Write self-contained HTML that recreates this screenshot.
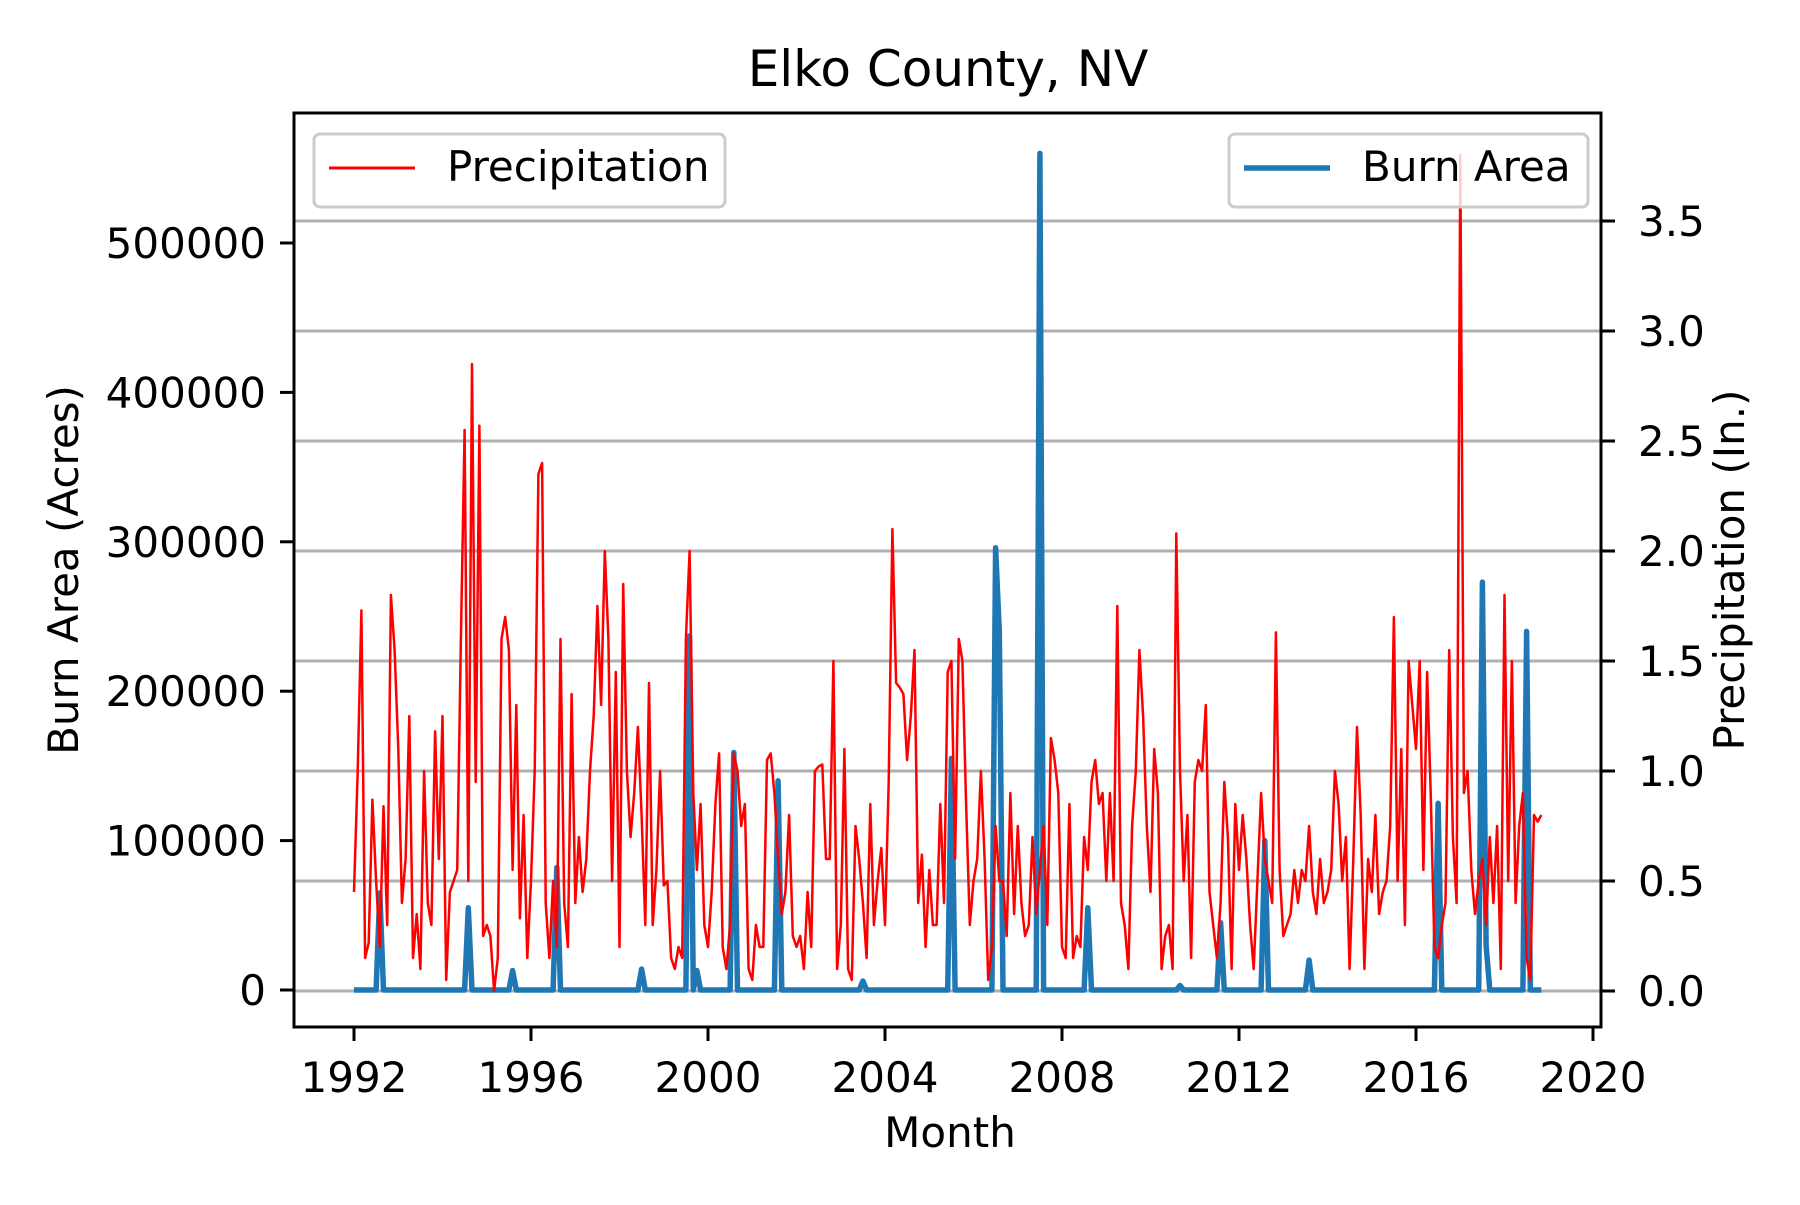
<!DOCTYPE html>
<html><head><meta charset="utf-8"><style>
body{margin:0;background:#fff}
svg{font-family:"DejaVu Sans","Liberation Sans",sans-serif}
</style></head><body>
<svg width="1800" height="1200" viewBox="0 0 1800 1200" id="c">
<rect width="1800" height="1200" fill="#fff"/>
<text x="948" y="86" font-size="50" text-anchor="middle">Elko County, NV</text>
<g id="grid"></g><g id="series"></g>
<rect x="294" y="113" width="1307" height="914" fill="none" stroke="#000" stroke-width="3"/>
<g id="axes"></g>
<text x="950" y="1147" font-size="42" text-anchor="middle">Month</text>
<text transform="translate(78,570) rotate(-90)" font-size="42" text-anchor="middle">Burn Area (Acres)</text>
<text transform="translate(1744,570) rotate(-90)" font-size="42" text-anchor="middle">Precipitation (In.)</text>
<g>
<rect x="314" y="134" width="411" height="73" rx="6" fill="#fff" fill-opacity="0.8" stroke="#ccc" stroke-width="3"/>
<line x1="329" y1="168" x2="415" y2="168" stroke="red" stroke-width="3"/>
<text x="447" y="181" font-size="42">Precipitation</text></g>
<g>
<rect x="1229" y="134" width="359" height="73" rx="6" fill="#fff" fill-opacity="0.8" stroke="#ccc" stroke-width="3"/>
<line x1="1244" y1="168" x2="1330" y2="168" stroke="#1f77b4" stroke-width="5.5"/>
<text x="1362" y="181" font-size="42">Burn Area</text></g>
</svg>
<script>
const xTicks=[1992,1996,2000,2004,2008,2012,2016,2020];
const leftTicks=[0,100000,200000,300000,400000,500000];
const rightTicks=[0.0,0.5,1.0,1.5,2.0,2.5,3.0,3.5];
const rightTickLabels=["0.0","0.5","1.0","1.5","2.0","2.5","3.0","3.5"];
const precip=[
.45,1.0,1.73,.15,.22,.87,.5,.2,.84,.3,1.8,1.55,
1.1,.4,.6,1.25,.15,.35,.1,1.0,.4,.3,1.18,.6,
1.25,.05,.45,.5,.55,1.6,2.55,.5,2.85,.95,2.57,.25,
.3,.25,.0,.15,1.6,1.7,1.55,.55,1.3,.33,.8,.15,
.5,1.0,2.35,2.4,.4,.15,.5,.2,1.6,.4,.2,1.35,
.4,.7,.45,.6,1.0,1.25,1.75,1.3,2.0,1.6,.5,1.45,
.2,1.85,1.0,.7,.9,1.2,.8,.3,1.4,.3,.55,1.0,
.48,.5,.15,.1,.2,.15,1.6,2.0,.9,.55,.85,.3,
.2,.45,.85,1.08,.2,.1,.3,1.08,1.0,.75,.85,.1,
.05,.3,.2,.2,1.05,1.08,.9,.6,.35,.45,.8,.25,
.2,.25,.1,.45,.2,1.0,1.02,1.03,.6,.6,1.5,.1,
.3,1.1,.1,.05,.75,.6,.4,.15,.85,.3,.5,.65,
.3,.95,2.1,1.4,1.38,1.35,1.05,1.25,1.55,.4,.62,.2,
.55,.3,.3,.85,.4,1.45,1.5,.6,1.6,1.5,.85,.3,
.5,.6,1.0,.6,.05,.2,.75,.5,.5,.25,.9,.35,
.75,.4,.25,.3,.7,.35,.55,.75,.3,1.15,1.05,.9,
.2,.15,.85,.15,.25,.2,.7,.55,.95,1.05,.85,.9,
.5,.9,.5,1.75,.4,.3,.1,.75,1.0,1.55,1.25,.75,
.45,1.1,.9,.1,.25,.3,.1,2.08,1.0,.5,.8,.15,
.95,1.05,1.0,1.3,.45,.3,.15,.4,.95,.7,.1,.85,
.55,.8,.6,.3,.1,.5,.9,.6,.5,.4,1.63,.55,
.25,.3,.35,.55,.4,.55,.5,.75,.45,.35,.6,.4,
.45,.55,1.0,.85,.5,.7,.1,.6,1.2,.8,.1,.6,
.45,.8,.35,.45,.5,.75,1.7,.5,1.1,.3,1.5,1.3,
1.1,1.5,.55,1.45,.9,.2,.15,.3,.4,1.55,.7,.4,
3.8,.9,1.0,.55,.35,.5,.6,.3,.7,.4,.75,.1,
1.8,.5,1.5,.4,.75,.9,.15,.05,.8,.77,.8];
const burnMonths=[1992.58,1994.58,1995.58,1996.58,1998.5,1999.58,1999.75,2000.58,2001.58,2003.5,2005.5,2006.5,2006.6,2007.5,2008.6,2010.67,2011.6,2012.6,2013.6,2016.5,2017.5,2017.6,2018.5];
const burnValues=[65000,55000,13000,82000,14000,237000,13000,159000,140000,6000,155000,296000,240000,560000,55000,3000,45000,100000,20000,125000,273000,30000,240000];
const X=y=>354+(y-1992)*44.25;
const YL=v=>990-v*747/500000;
const YR=v=>991-v*220;
const NS="http://www.w3.org/2000/svg";
function mk(tag,attrs,parent){const e=document.createElementNS(NS,tag);for(const k in attrs)e.setAttribute(k,attrs[k]);document.getElementById(parent).appendChild(e);return e;}
rightTicks.forEach((t,i)=>{
 const g=mk('line',{x1:294,x2:1601,y1:YR(t),y2:YR(t),stroke:'#b0b0b0','stroke-width':3},'grid');
 
 
 const tk=mk('line',{x1:1601,x2:1615,y1:YR(t),y2:YR(t),stroke:'#000','stroke-width':3},'axes');
 
 
 const tx=mk('text',{x:1638,y:YR(t)+15,'font-size':42},'axes');tx.textContent=rightTickLabels[i];
 
 
});
leftTicks.forEach(t=>{
 const tk=mk('line',{x1:280,x2:294,y1:YL(t),y2:YL(t),stroke:'#000','stroke-width':3},'axes');
 
 
 const tx=mk('text',{x:266,y:YL(t)+15,'font-size':42,'text-anchor':'end'},'axes');tx.textContent=String(t);
 
 
});
xTicks.forEach(t=>{
 const tk=mk('line',{x1:X(t),x2:X(t),y1:1027,y2:1041,stroke:'#000','stroke-width':3},'axes');
 
 
 const tx=mk('text',{x:X(t),y:1092,'font-size':42,'text-anchor':'middle'},'axes');tx.textContent=String(t);
 
 
});
const n=precip.length;const burn=new Array(n).fill(0);
burnMonths.forEach((m,i)=>{const idx=Math.round((m-1992)*12);if(idx>=0&&idx<n)burn[idx]=Math.max(burn[idx],burnValues[i]);});
let pb=burn.map((v,i)=>X(1992+i/12).toFixed(1)+','+YL(v).toFixed(1)).join(' ');
const bl=mk('polyline',{points:pb,fill:'none',stroke:'#1f77b4','stroke-width':5.5,'stroke-linejoin':'round'},'series');


let pp=precip.map((v,i)=>X(1992+i/12).toFixed(1)+','+YR(v).toFixed(1)).join(' ');
const pl=mk('polyline',{points:pp,fill:'none',stroke:'red','stroke-width':2.5,'stroke-linejoin':'round'},'series');


</script>
</body></html>
